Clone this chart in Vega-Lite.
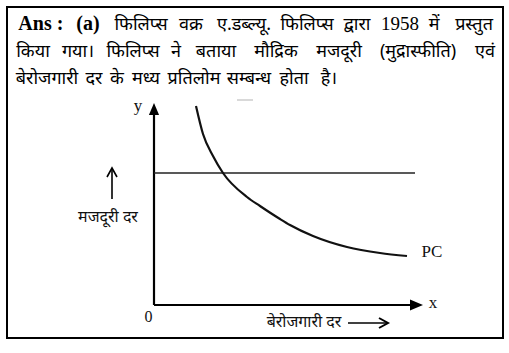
{
  "$schema": "https://vega.github.io/schema/vega-lite/v6.json",
  "width": 509,
  "height": 353,
  "autosize": {"type": "fit", "contains": "padding"},
  "padding": 0,
  "background": "white",
  "config": {"view": {"stroke": null}},
  "encoding": {
    "x": {"field": "x", "type": "quantitative", "scale": {"domain": [-154, 355], "nice": false, "zero": false}, "axis": null},
    "y": {"field": "y", "type": "quantitative", "scale": {"domain": [-48, 305], "nice": false, "zero": false}, "axis": null}
  },
  "layer": [
    {
      "data": {"values": [{"x": -147, "x2": 349, "y": -33, "y2": 298}]},
      "mark": {"type": "rect", "fillOpacity": 0, "stroke": "black", "strokeWidth": 2},
      "encoding": {"x2": {"field": "x2"}, "y2": {"field": "y2"}}
    },
    {
      "data": {"values": [
        {"part": "y axis", "x": 0, "y": 0, "x2": 0, "y2": 192},
        {"part": "x axis", "x": 0, "y": 0, "x2": 258, "y2": 0}
      ]},
      "mark": {"type": "rule", "color": "black", "strokeWidth": 2.2},
      "encoding": {"x2": {"field": "x2"}, "y2": {"field": "y2"}}
    },
    {
      "data": {"values": [{"part": "wage level", "x": 0, "y": 132, "x2": 261, "y2": 132}]},
      "mark": {"type": "rule", "color": "#222", "strokeWidth": 1.6},
      "encoding": {"x2": {"field": "x2"}, "y2": {"field": "y2"}}
    },
    {
      "data": {"values": [{"part": "scan mark", "x": 83, "y": 205, "x2": 99, "y2": 205}]},
      "mark": {"type": "rule", "color": "#cccccc", "strokeWidth": 1.5},
      "encoding": {"x2": {"field": "x2"}, "y2": {"field": "y2"}}
    },
    {
      "data": {"values": [
        {"x": 42, "y": 199},
        {"x": 49, "y": 171},
        {"x": 59, "y": 149},
        {"x": 69, "y": 132},
        {"x": 93, "y": 108},
        {"x": 106, "y": 99},
        {"x": 126, "y": 86},
        {"x": 136, "y": 80},
        {"x": 159, "y": 69},
        {"x": 193, "y": 58},
        {"x": 226, "y": 52},
        {"x": 253, "y": 49}
      ]},
      "mark": {"type": "line", "color": "#111", "strokeWidth": 2.2, "interpolate": "monotone"},
      "encoding": {}
    },
    {
      "data": {"values": [{"part": "y arrow", "x": 0, "y": 196}]},
      "mark": {"type": "point", "shape": "M-0.83,1L0,-1L0.83,1Z", "size": 150, "filled": true, "color": "black", "opacity": 1},
      "encoding": {}
    },
    {
      "data": {"values": [{"part": "x arrow", "x": 262.5, "y": 0}]},
      "mark": {"type": "point", "shape": "M-1,-0.85L1,0L-1,0.85Z", "size": 170, "filled": true, "color": "black", "opacity": 1},
      "encoding": {}
    },
    {
      "data": {"values": [
        {"part": "wage arrow shaft", "x": -42, "y": 106, "x2": -42, "y2": 136},
        {"part": "unemp arrow shaft", "x": 194, "y": -18, "x2": 233, "y2": -18}
      ]},
      "mark": {"type": "rule", "color": "black", "strokeWidth": 1.6},
      "encoding": {"x2": {"field": "x2"}, "y2": {"field": "y2"}}
    },
    {
      "data": {"values": [{"part": "wage arrow head", "x": -42, "y": 132.5}]},
      "mark": {"type": "point", "shape": "M-1,0.9L0,-0.9L1,0.9", "size": 100, "filled": false, "color": "black", "strokeWidth": 1.6, "opacity": 1},
      "encoding": {}
    },
    {
      "data": {"values": [{"part": "unemp arrow head", "x": 229.5, "y": -18}]},
      "mark": {"type": "point", "shape": "M-0.9,-1L0.9,0L-0.9,1", "size": 100, "filled": false, "color": "black", "strokeWidth": 2, "opacity": 1},
      "encoding": {}
    },
    {
      "data": {"values": [
        {"t": "y", "x": -16, "y": 194},
        {"t": "x", "x": 279, "y": -3},
        {"t": "PC", "x": 278, "y": 48}
      ]},
      "mark": {"type": "text", "font": "Liberation Serif", "fontSize": 17, "baseline": "alphabetic", "align": "center", "color": "#111"},
      "encoding": {"text": {"field": "t"}}
    },
    {
      "data": {"values": [{"t": "0", "x": -5.5, "y": -17}]},
      "mark": {"type": "text", "font": "Liberation Serif", "fontSize": 16, "baseline": "alphabetic", "align": "center", "color": "#111"},
      "encoding": {"text": {"field": "t"}}
    },
    {
      "data": {"values": [
        {"t": "मजदूरी दर", "x": -46, "y": 83},
        {"t": "बेरोजगारी दर", "x": 150, "y": -22}
      ]},
      "mark": {"type": "text", "font": "Noto Sans", "fontSize": 16, "baseline": "alphabetic", "align": "center", "color": "#111"},
      "encoding": {"text": {"field": "t"}}
    },
    {
      "data": {"values": [
        {"t": "Ans", "x": -119, "y": 275},
        {"t": ":", "x": -94, "y": 275},
        {"t": "(a)", "x": -66, "y": 275}
      ]},
      "mark": {"type": "text", "font": "Liberation Serif", "fontSize": 20, "fontWeight": "bold", "align": "center", "baseline": "alphabetic", "color": "black"},
      "encoding": {"text": {"field": "t"}}
    },
    {
      "data": {"values": [{"t": "1958", "x": 246, "y": 275}]},
      "mark": {"type": "text", "font": "Liberation Serif", "fontSize": 19, "align": "center", "baseline": "alphabetic", "color": "black"},
      "encoding": {"text": {"field": "t"}}
    },
    {
      "data": {"values": [
        {"t": "फिलिप्स", "x": -13, "y": 275},
        {"t": "वक्र", "x": 37, "y": 275},
        {"t": "ए.डब्ल्यू.", "x": 90, "y": 275},
        {"t": "फिलिप्स", "x": 153, "y": 275},
        {"t": "द्वारा", "x": 203, "y": 275},
        {"t": "में", "x": 280, "y": 275},
        {"t": "प्रस्तुत", "x": 320, "y": 275},
        {"t": "किया", "x": -121, "y": 248},
        {"t": "गया।", "x": -76, "y": 248},
        {"t": "फिलिप्स", "x": -21, "y": 248},
        {"t": "ने", "x": 22, "y": 248},
        {"t": "बताया", "x": 62, "y": 248},
        {"t": "मौद्रिक", "x": 122, "y": 248},
        {"t": "मजदूरी", "x": 185, "y": 248},
        {"t": "(मुद्रास्फीति)", "x": 264, "y": 248},
        {"t": "एवं", "x": 331, "y": 248},
        {"t": "बेरोजगारी", "x": -107, "y": 221},
        {"t": "दर", "x": -60, "y": 221},
        {"t": "के", "x": -37, "y": 221},
        {"t": "मध्य", "x": -8, "y": 221},
        {"t": "प्रतिलोम", "x": 40, "y": 221},
        {"t": "सम्बन्ध", "x": 95, "y": 221},
        {"t": "होता", "x": 140, "y": 221},
        {"t": "है।", "x": 175, "y": 221}
      ]},
      "mark": {"type": "text", "font": "Noto Sans", "fontSize": 18, "align": "center", "baseline": "alphabetic", "color": "black"},
      "encoding": {"text": {"field": "t"}}
    }
  ]
}
